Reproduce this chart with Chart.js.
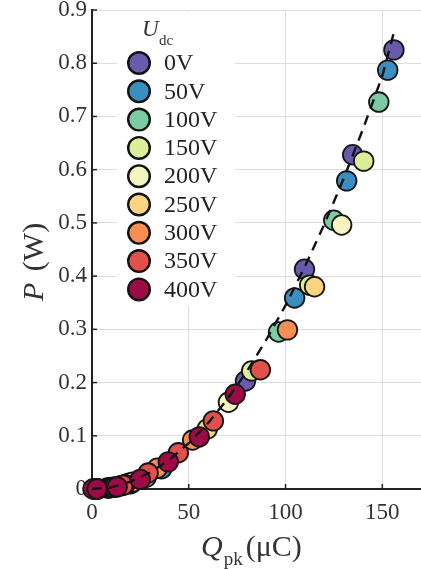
<!DOCTYPE html>
<html lang="en">
<head>
  <meta charset="UTF-8" />
  <title>P vs Qpk</title>
  <script src="https://cdn.jsdelivr.net/npm/chart.js"></script>
  <style>
    html, body { margin: 0; padding: 0; background: #fff; overflow: hidden; }
    #wrap { width: 421px; height: 569px; position: relative; }
    canvas { display: block; }
  </style>
</head>
<body>
  <div id="wrap"><canvas id="graph"></canvas></div>

  <script>
    const voltages = ['0V', '50V', '100V', '150V', '200V', '250V', '300V', '350V', '400V'];
    const colors = ['#6a5aad', '#3a8fc0', '#7ccba2', '#dcef98', '#f6f4bf', '#fdd582', '#f78e52', '#e1504a', '#9e0a45'];

    // Q_pk (uC) / P (W)
    const q0 = [1, 8, 79.3, 109.8, 134.7, 156];
    const p0 = [0, 0.002, 0.203, 0.413, 0.628, 0.825];
    const q50 = [1.5, 9, 36, 104.7, 131.6, 152.8];
    const p50 = [0, 0.002, 0.038, 0.359, 0.579, 0.787];
    const q100 = [2, 10, 28, 96.4, 124.9, 148.2];
    const p100 = [0, 0.003, 0.022, 0.295, 0.505, 0.727];
    const q150 = [2, 11, 20, 82.5, 112.5, 140.4];
    const p150 = [0, 0.003, 0.010, 0.222, 0.383, 0.616];
    const q200 = [2.5, 12, 19, 70.5, 129];
    const p200 = [0, 0.004, 0.011, 0.163, 0.496];
    const q250 = [2.5, 15, 21, 59.6, 115];
    const p250 = [0, 0.006, 0.013, 0.113, 0.380];
    const q300 = [3, 17, 33.7, 52, 101];
    const p300 = [0, 0.008, 0.039, 0.092, 0.299];
    const q350 = [3, 16, 29, 44.6, 62.7, 87];
    const p350 = [0, 0.007, 0.030, 0.068, 0.128, 0.224];
    const q400 = [0.5, 2.6, 13, 24.9, 39.4, 55.4, 74];
    const p400 = [0, 0, 0.004, 0.018, 0.051, 0.098, 0.178];

    // dashed fit curve
    const fitQ = [0, 10, 20, 30, 40, 50, 60, 70, 80, 90, 100, 110, 120, 130, 140, 150, 156];
    const fitP = [0, 0.003, 0.014, 0.031, 0.055, 0.086, 0.124, 0.169, 0.221, 0.280, 0.345, 0.418, 0.497, 0.583, 0.676, 0.776, 0.858];

    const xTicks = [0, 50, 100, 150];
    const yTicks = [0, 0.1, 0.2, 0.3, 0.4, 0.5, 0.6, 0.7, 0.8, 0.9];

    const qSeries = [q0, q50, q100, q150, q200, q250, q300, q350, q400];
    const pSeries = [p0, p50, p100, p150, p200, p250, p300, p350, p400];

    const serif = '"Liberation Serif", "DejaVu Serif", serif';

    const datasets = [{
      type: 'line',
      data: fitQ.map((q, i) => ({ x: q, y: fitP[i] })),
      borderColor: '#111',
      borderWidth: 2.4,
      borderDash: [10, 7],
      pointRadius: 0,
      fill: false,
      tension: 0,
      order: 0,
      clip: false
    }];
    voltages.forEach((v, i) => {
      datasets.push({
        label: v,
        data: qSeries[i].map((q, j) => ({ x: q, y: pSeries[i][j] })),
        backgroundColor: colors[i],
        borderColor: '#151515',
        borderWidth: 1.8,
        pointRadius: 9.8,
        pointHoverRadius: 9.8,
        order: voltages.length - i,
        clip: false
      });
    });

    // legend, inward ticks and axis titles drawn by hand (italic + subscript)
    const decor = {
      id: 'decor',
      afterDraw(chart) {
        const ctx = chart.ctx;
        const xs = chart.scales.x, ys = chart.scales.y;
        ctx.save();

        // inward ticks
        ctx.strokeStyle = '#222';
        ctx.lineWidth = 1.5;
        xTicks.slice(1).forEach(t => {
          const px = xs.getPixelForValue(t);
          ctx.beginPath(); ctx.moveTo(px, ys.bottom); ctx.lineTo(px, ys.bottom - 5); ctx.stroke();
        });
        yTicks.slice(1).forEach(t => {
          const py = ys.getPixelForValue(t);
          ctx.beginPath(); ctx.moveTo(xs.left, py); ctx.lineTo(xs.left + 5, py); ctx.stroke();
        });

        // legend box
        ctx.fillStyle = '#fff';
        ctx.fillRect(117, 12, 118, 294);
        ctx.fillStyle = '#333';
        ctx.textBaseline = 'alphabetic';
        ctx.font = 'italic 23px ' + serif;
        ctx.fillText('U', 142, 36);
        ctx.font = '15px ' + serif;
        ctx.fillText('dc', 159, 45);
        voltages.forEach((v, i) => {
          const cy = 63 + i * 28.3;
          ctx.beginPath();
          ctx.arc(139, cy, 10.8, 0, Math.PI * 2);
          ctx.fillStyle = colors[i];
          ctx.fill();
          ctx.lineWidth = 2.4;
          ctx.strokeStyle = '#111';
          ctx.stroke();
          ctx.fillStyle = '#222';
          ctx.font = '24px ' + serif;
          ctx.textBaseline = 'middle';
          ctx.fillText(v, 164, cy + 1);
        });

        // x title
        ctx.textBaseline = 'alphabetic';
        ctx.fillStyle = '#333';
        let x = 201;
        ctx.font = 'italic 30px ' + serif;
        ctx.fillText('Q', x, 556);
        x += ctx.measureText('Q').width + 1;
        ctx.font = '19px ' + serif;
        ctx.fillText('pk', x, 565);
        x += ctx.measureText('pk').width + 3;
        ctx.font = '30px ' + serif;
        ctx.fillText('(\u03bcC)', x, 556);

        // y title
        ctx.translate(43, 301);
        ctx.rotate(-Math.PI / 2);
        ctx.font = 'italic 30px ' + serif;
        ctx.fillText('P', 0, 0);
        const w = ctx.measureText('P ').width + 4;
        ctx.font = '30px ' + serif;
        ctx.fillText('(W)', w, 0);

        ctx.restore();
      }
    };

    new Chart(document.getElementById('graph'), {
      type: 'scatter',
      data: { datasets },
      options: {
        responsive: true,
        maintainAspectRatio: false,
        animation: false,
        events: [],
        layout: { autoPadding: false, padding: { top: 10, right: 0, left: 0, bottom: 0 } },
        plugins: {
          legend: { display: false },
          tooltip: { enabled: false }
        },
        scales: {
          x: {
            type: 'linear',
            min: 0,
            max: 170,
            afterFit: s => { s.height = 80; s.paddingLeft = 0; s.paddingRight = 0; },
            afterBuildTicks: s => { s.ticks = xTicks.map(v => ({ value: v })); },
            ticks: {
              font: { family: serif, size: 23 },
              color: '#333',
              padding: 10,
              maxRotation: 0
            },
            grid: { color: '#dddddd', lineWidth: 1, drawTicks: false },
            border: { color: '#222', width: 2 }
          },
          y: {
            type: 'linear',
            min: 0,
            max: 0.9,
            afterFit: s => { s.width = 92; s.paddingTop = 0; s.paddingBottom = 0; },
            afterBuildTicks: s => { s.ticks = yTicks.map(v => ({ value: v })); },
            ticks: {
              font: { family: serif, size: 23 },
              color: '#333',
              padding: 5,
              callback: v => String(Number(v.toFixed(1)))
            },
            grid: { color: '#dddddd', lineWidth: 1, drawTicks: false },
            border: { color: '#222', width: 2 }
          }
        }
      },
      plugins: [decor]
    });
  </script>
</body>
</html>
